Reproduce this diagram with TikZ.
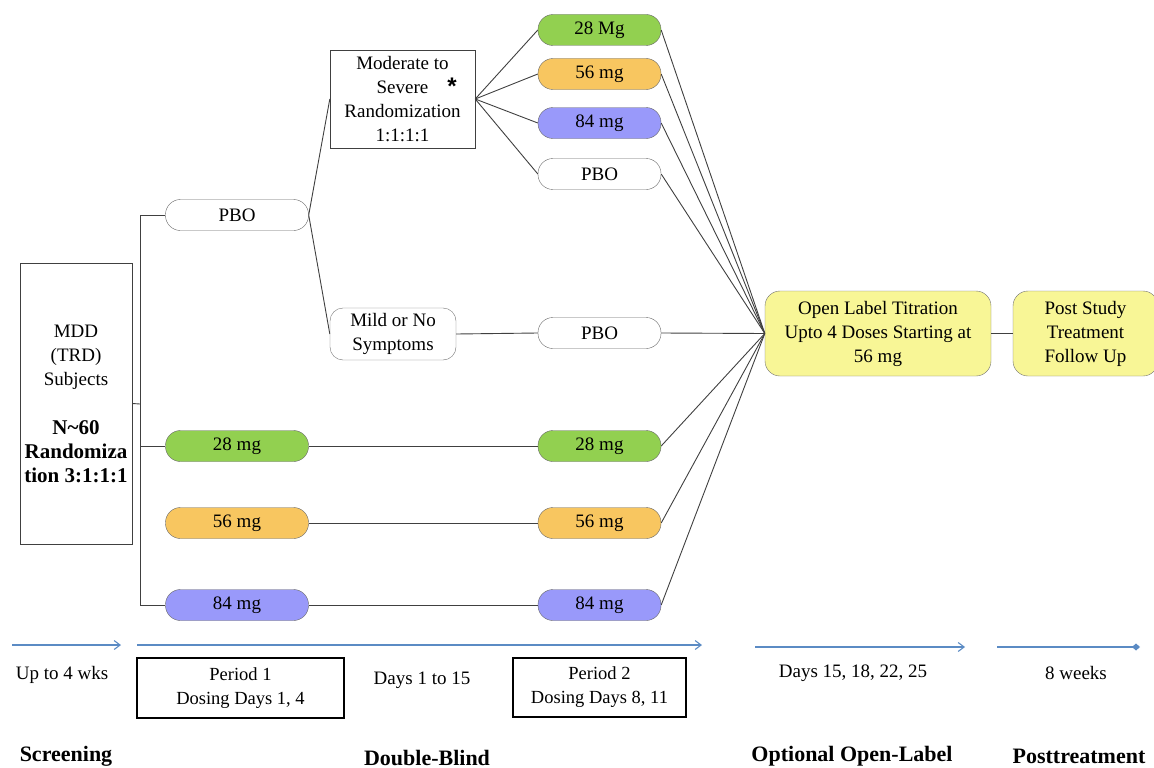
\documentclass[tikz,border=0pt]{standalone}
\usepackage{fontspec}
\setmainfont{Liberation Serif}
\newfontfamily\starfont{Liberation Sans}
\usepackage{xcolor}
\usepackage{tikz}
\usetikzlibrary{arrows.meta, positioning}
\definecolor{dosegreen}{RGB}{146,208,80}
\definecolor{doseorange}{RGB}{248,198,96}
\definecolor{doseblue}{RGB}{153,153,250}
\definecolor{openyellow}{RGB}{248,246,150}
\definecolor{timeblue}{RGB}{91,139,196}

\begin{document}
\begin{tikzpicture}[x=1pt,y=-1pt,
  every node/.style={font=\fontsize{19}{24}\selectfont, align=center},
  pill/.style={draw=black!60, rounded corners=15pt, minimum height=31pt, inner sep=0pt},
  pillL/.style={pill, minimum width=143pt},
  pillR/.style={pill, minimum width=123pt},
  sqbox/.style={draw=black!75, inner sep=0pt},
  softbox/.style={draw=black!55, rounded corners=13pt, inner sep=0pt},
  periodbox/.style={draw=black, line width=2.6pt, inner sep=0pt, font=\fontsize{18.5}{24}\selectfont},
  link/.style={draw=black!75, line width=0.9pt},
  timearrow/.style={draw=timeblue, line width=1.1pt, -{Straight Barb[length=6pt,width=9pt]}},
  phaselabel/.style={font=\fontsize{22}{24}\selectfont\bfseries}]
  \def\bigb{\fontsize{21}{24}\selectfont\bfseries}
  \useasboundingbox (0,0) rectangle (1154,768);

  % --- SUBJECTS ---
  \node[sqbox, minimum width=112pt, minimum height=281pt] (mdd) at (76,403.5)
    {MDD\\(TRD)\\Subjects\\[25pt]{\bigb N\textasciitilde60}\\{\bigb Randomiza}\\{\bigb tion 3:1:1:1}};

  % --- PERIOD 1 ARMS ---
  \node[pillL]                  (pboA)  at (237,215) {PBO};
  \node[pillL, fill=dosegreen]  (lo28)  at (237,446) {28 mg};
  \node[pillL, fill=doseorange] (lo56)  at (237,523) {56 mg};
  \node[pillL, fill=doseblue]   (lo84)  at (237,605) {84 mg};

  % --- RE-RANDOMIZATION OF PBO ---
  \node[sqbox, minimum width=145pt, minimum height=98pt] (mod) at (402.5,99)
    {Moderate to\\Severe\\Randomization\\1:1:1:1};
  \node[font=\starfont\fontsize{24}{24}\selectfont\bfseries] (star) at (452,86) {*};
  \node[softbox, minimum width=126pt, minimum height=52pt] (mild) at (393,334)
    {Mild or No\\Symptoms};

  % --- PERIOD 2 ARMS ---
  \node[pillR, fill=dosegreen]  (hi28M) at (599.5,30)  {28 Mg};
  \node[pillR, fill=doseorange] (hi56M) at (599.5,74)  {56 mg};
  \node[pillR, fill=doseblue]   (hi84M) at (599.5,123) {84 mg};
  \node[pillR]                  (pboM)  at (599.5,174) {PBO};
  \node[pillR]                  (pboN)  at (599.5,333) {PBO};
  \node[pillR, fill=dosegreen]  (hi28)  at (599.5,446) {28 mg};
  \node[pillR, fill=doseorange] (hi56)  at (599.5,523) {56 mg};
  \node[pillR, fill=doseblue]   (hi84)  at (599.5,605) {84 mg};

  % --- OPEN LABEL AND FOLLOW UP ---
  \node[softbox, fill=openyellow, rounded corners=15pt, minimum width=226pt, minimum height=85pt] (open) at (878,333.5)
    {Open Label Titration\\Upto 4 Doses Starting at\\56 mg};
  \node[softbox, fill=openyellow, rounded corners=15pt, minimum width=145pt, minimum height=85pt] (post) at (1085.5,333.5)
    {Post Study\\Treatment\\Follow Up};

  % Tree connectors
  \coordinate (j) at (140,404);
  \draw[link] (mdd.east) -- (j);
  \draw[link] (pboA.west) -- (pboA.west -| j) -- (lo84.west -| j) -- (lo84.west);
  \draw[link] (lo28.west -| j) -- (lo28.west);
  \draw[link] (pboA.east) -- (mod.west);
  \draw[link] (pboA.east) -- (mild.west);
  \foreach \n in {hi28M,hi56M,hi84M,pboM}
    \draw[link] (mod.east) -- (\n.west);
  \draw[link] (mild.east) -- (pboN.west);
  \draw[link] (lo28.east) -- (hi28.west);
  \draw[link] (lo56.east) -- (hi56.west);
  \draw[link] (lo84.east) -- (hi84.west);
  \foreach \n in {hi28M,hi56M,hi84M,pboM,pboN,hi28,hi56,hi84}
    \draw[link] (\n.east) -- (open.west);
  \draw[link] (open.east) -- (post.west);

  % --- TIMELINE ---
  \coordinate (t1a) at (12,645);  \coordinate (t1b) at (121,645);
  \coordinate (t2a) at (137,645); \coordinate (t2b) at (702,645);
  \coordinate (t3a) at (755,647); \coordinate (t3b) at (965,647);
  \coordinate (t4a) at (997,647); \coordinate (t4b) at (1140,647);
  \draw[timearrow] (t1a) -- (t1b);
  \draw[timearrow] (t2a) -- (t2b);
  \draw[timearrow] (t3a) -- (t3b);
  \draw[timearrow, -{Diamond[length=8pt,width=7pt]}] (t4a) -- (t4b);

  \node (wks)  at (62,675)   {Up to 4 wks};
  \node (days) at (422,680)  {Days 1 to 15};
  \node (olds) at (853,673)  {Days 15, 18, 22, 25};
  \node (fup)  at (1076,673) {8 weeks};
  \node[periodbox, minimum width=207pt, minimum height=60pt] (per1) at (240.5,688) {Period 1\\Dosing Days 1, 4};
  \node[periodbox, minimum width=173pt, minimum height=59pt] (per2) at (599.5,687.5) {Period 2\\Dosing Days 8, 11};

  % Phase labels
  \node[phaselabel] (scr)  at (66,756)   {Screening};
  \node[phaselabel] (db)   at (427,758)  {Double-Blind};
  \node[phaselabel] (ool)  at (852,756)  {Optional Open-Label};
  \node[phaselabel] (ptr)  at (1079,756) {Posttreatment};
\end{tikzpicture}
\end{document}
